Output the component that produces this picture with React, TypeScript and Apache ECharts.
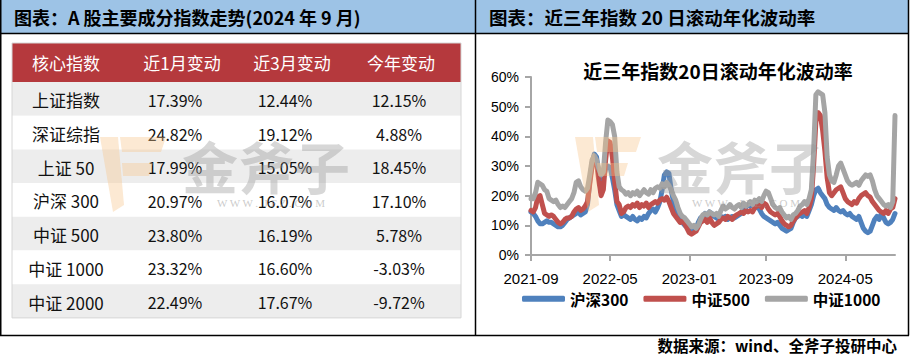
import React, { useEffect, useRef } from 'react';
import * as echarts from 'echarts';

// ---------- Left panel table ----------
const tableHeaders = ['核心指数', '近1月变动', '近3月变动', '今年变动'];
const indexNames = ['上证指数', '深证综指', '上证 50', '沪深 300', '中证 500', '中证 1000', '中证 2000'];
const change1M = ['17.39%', '24.82%', '17.99%', '20.97%', '23.80%', '23.32%', '22.49%'];
const change3M = ['12.44%', '19.12%', '15.05%', '16.07%', '16.19%', '16.60%', '17.67%'];
const changeYTD = ['12.15%', '4.88%', '18.45%', '17.10%', '5.78%', '-3.03%', '-9.72%'];

// ---------- Right panel chart ----------
const seriesNames = ['沪深300', '中证500', '中证1000'];
const xTickLabels = ['2021-09', '2022-05', '2023-01', '2023-09', '2024-05'];
const firstWeekUTC = Date.UTC(2021, 8, 3); // weekly observations from 2021-09-03

const hs300 = [
  14.5, 14, 13, 11.5, 10.5, 10.5, 11, 11.5, 11, 11,
  10.5, 10, 9.5, 9.5, 10, 11, 12, 12.5, 13, 13.5,
  14, 14.5, 13.5, 14, 14.5, 17, 25, 31, 34, 33,
  27, 24, 26, 29, 30, 29.5, 26, 22, 17, 15,
  13, 13.5, 13, 12.5, 12, 13, 12, 11.5, 12.5, 12,
  13, 12.5, 14, 15, 15.5, 14.5, 16, 18, 22, 27,
  28, 27.5, 22, 18, 16, 13.5, 12, 11, 10, 9.5,
  8.5, 8, 8.5, 9, 11, 12.5, 13, 14, 13, 14.5,
  14, 13, 12.5, 12, 13, 12.5, 13, 12, 12.5, 13,
  12.5, 13, 13.5, 14, 15.5, 16, 17, 16.5, 17.5, 17,
  16, 15.5, 14, 13, 12.5, 12, 11.5, 11, 10.5, 11,
  10, 9, 8.5, 8, 8.5, 9, 11, 12.5, 13, 13.5,
  13, 14, 13, 15, 17, 20, 22, 22.5, 21, 20,
  19, 17, 16, 15.5, 15, 16, 15, 14.5, 15, 14,
  13.5, 14, 13, 12.5, 12, 13, 11, 9, 8, 7.5,
  8, 10, 12, 13, 12, 14, 12.5, 11, 10.5, 11,
  12, 14,
];

const zz500 = [
  15, 14.5, 16, 19.5, 20, 17, 14, 13.5, 13, 13.5,
  13, 12, 11, 10.5, 11, 12, 12.5, 12.5, 13, 14.5,
  15.5, 16, 15, 15.5, 16.5, 18, 24, 30, 31.5, 31,
  25, 20, 22, 32, 38.5, 38, 33, 25, 18, 17,
  14, 14.5, 16, 16.5, 16, 17, 16.5, 17.5, 16, 17,
  16.5, 17.5, 16, 17, 17.5, 18, 17.5, 18.5, 19, 18.5,
  19.5, 18, 16, 14, 13, 12, 11, 11.5, 10.5, 9,
  7.5, 7, 7.5, 8, 9.5, 11, 11.5, 12, 11, 12.5,
  11, 10, 10.5, 11, 12, 12.5, 12, 13, 12.5, 12,
  13, 13.5, 14, 14.5, 14, 15, 14.5, 15, 14.5, 16,
  16.5, 17, 16, 17.5, 17, 15.5, 14.5, 14, 13.5, 14,
  13, 11.5, 10.5, 10, 9.5, 10, 11.5, 12.5, 13.5, 14,
  14.5, 15, 14, 16, 19, 30, 45, 48, 47, 42,
  35, 26, 21, 20, 21, 22, 22.5, 23, 21, 19,
  18, 17.5, 17, 18, 17.5, 19, 20, 20.5, 21, 20,
  19.5, 18, 17, 16, 15, 14.5, 14, 15, 14, 15.5,
  16, 19,
];

const zz1000 = [
  19, 19, 21, 24.5, 24, 23.5, 22, 21.5, 19, 18.5,
  18, 18.5, 17, 16, 16.5, 16, 17, 18, 19, 21,
  24.5, 25, 23, 22, 21.5, 22.5, 27, 32, 33.5, 32,
  29, 27, 28, 38, 45.5, 45, 44, 40, 28, 23,
  22, 21.5, 20.5, 21, 20, 21, 20.5, 21.5, 20, 21,
  22, 21, 20.5, 22, 21, 22.5, 23, 22.5, 24, 23,
  24.5, 23.5, 22, 20, 18.5, 16, 14, 13, 12.5, 11.5,
  10.5, 9.5, 10, 9, 10, 12, 13.5, 14, 13.5, 14.5,
  14, 13.5, 14, 13, 15, 16.5, 15.5, 16, 17, 16,
  15.5, 16.5, 17, 16, 17.5, 16.5, 17, 18, 17, 18.5,
  18, 19, 18, 20, 21.5, 21, 19, 17, 16, 15.5,
  16, 14.5, 13.5, 12.5, 13, 12, 13.5, 14, 15, 16.5,
  17, 18, 17, 19, 22, 35, 54, 55, 54.5, 54,
  48, 33, 27, 25, 24.5, 27, 30, 31, 29, 27,
  25, 24, 23.5, 24, 24.5, 23.5, 25, 26, 27, 26.5,
  27, 25, 22, 20, 19, 18, 17, 16.5, 17, 16,
  18, 47,
];

const seriesColors = ['#4F81BD', '#C0504D', '#A5A5A5'];

const categories = hs300.map((_, i) =>
  new Date(firstWeekUTC + i * 7 * 86400000).toISOString().slice(0, 10)
);
const tickIdx = new Set<number>();
xTickLabels.forEach((lbl) => {
  const idx = categories.findIndex((c) => c.startsWith(lbl));
  if (idx >= 0) tickIdx.add(idx);
});

const CJK = '"Noto Sans CJK SC", "Noto Sans", sans-serif';
const LATIN = '"Liberation Sans", Arial, sans-serif';

function txt(x: number, y: number, text: string, o: any = {}) {
  return {
    type: 'text',
    x,
    y,
    z: o.z ?? 20,
    silent: true,
    style: {
      text,
      fill: o.fill ?? '#000',
      fontSize: o.fontSize ?? 16,
      fontFamily: o.fontFamily ?? CJK,
      fontWeight: o.fontWeight ?? 'normal',
      align: o.align ?? 'center',
      verticalAlign: 'middle',
      opacity: o.opacity ?? 1,
    },
  };
}

function line(x1: number, y1: number, x2: number, y2: number, stroke = '#000', lineWidth = 1.5, z = 50) {
  return { type: 'line', z, silent: true, shape: { x1, y1, x2, y2 }, style: { stroke, lineWidth } };
}

function watermark(ox: number) {
  const logo = 'rgba(246, 196, 140, 0.38)';
  return [
    { type: 'polygon', z: 60, silent: true, shape: { points: [[ox + 100, 137], [ox + 118, 137], [ox + 124, 205], [ox + 113, 212]] }, style: { fill: logo } },
    { type: 'polygon', z: 60, silent: true, shape: { points: [[ox + 120, 137], [ox + 166, 137], [ox + 161, 152], [ox + 122, 152]] }, style: { fill: logo } },
    { type: 'polygon', z: 60, silent: true, shape: { points: [[ox + 122, 163], [ox + 153, 163], [ox + 149, 176], [ox + 123, 176]] }, style: { fill: logo } },
    txt(ox + 266, 164, '金斧子', { fontSize: 56, fontWeight: 'bold', fill: 'rgba(150,150,150,0.38)', z: 61 }),
    txt(ox + 271, 203, 'W W W .  J F Z . C O M', { fontSize: 11, fontFamily: '"Liberation Serif", serif', fill: 'rgba(150,150,150,0.5)', z: 61 }),
  ];
}

function buildGraphics() {
  const g: any[] = [];
  // header band
  g.push({ type: 'rect', z: 1, silent: true, shape: { x: 0, y: 0, width: 909, height: 33 }, style: { fill: '#9DC3E6' } });
  g.push(txt(14, 17, '图表：A 股主要成分指数走势(2024 年 9 月)', { align: 'left', fontWeight: 'bold', fontSize: 18 }));
  g.push(txt(489, 17, '图表：近三年指数 20 日滚动年化波动率', { align: 'left', fontWeight: 'bold', fontSize: 18.5 }));
  // frames
  g.push(line(0, 33.5, 909, 33.5));
  g.push(line(0, 335.5, 909, 335.5));
  g.push(line(0.75, 0, 0.75, 335.5));
  g.push(line(475.5, 0, 475.5, 335.5));
  g.push(line(908.5, 0, 908.5, 335.5));

  // table
  const tx = 12, tw = 449, hy = 43, hh = 39, rh = 33.7;
  const rows = indexNames.length;
  g.push({ type: 'rect', z: 2, silent: true, shape: { x: tx, y: hy, width: tw, height: hh }, style: { fill: '#B5393D' } });
  for (let r = 0; r < rows; r++) {
    g.push({ type: 'rect', z: 2, silent: true, shape: { x: tx, y: hy + hh + r * rh, width: tw, height: rh }, style: { fill: r % 2 === 0 ? '#EDEDED' : '#FFFFFF' } });
  }
  g.push({ type: 'rect', z: 3, silent: true, shape: { x: tx, y: hy, width: tw, height: hh + rows * rh }, style: { fill: 'none', stroke: '#D6D6D6', lineWidth: 1 } });
  const headCx = [66, 182, 292, 401];
  tableHeaders.forEach((h, c) => g.push(txt(headCx[c], hy + hh / 2, h, { fill: '#FFFFFF', fontSize: 17 })));
  const valCx = [66, 175, 285, 399];
  const cols = [indexNames, change1M, change3M, changeYTD];
  for (let r = 0; r < rows; r++) {
    const cy = hy + hh + r * rh + rh / 2 + 1;
    cols.forEach((col, c) => g.push(txt(valCx[c], cy, col[r], { fontSize: c === 0 ? 17 : 16, fill: '#111' })));
  }

  // chart title + footer
  g.push(txt(718, 70, '近三年指数20日滚动年化波动率', { fontWeight: 'bold', fontSize: 19 }));
  g.push(txt(897, 345, '数据来源：wind、全斧子投研中心', { align: 'right', fontWeight: 'bold', fontSize: 15.5 }));

  // watermarks
  g.push(...watermark(0));
  g.push(...watermark(475));
  return g;
}

export default function App() {
  const ref = useRef<HTMLDivElement>(null);
  useEffect(() => {
    if (!ref.current) return;
    const chart = echarts.init(ref.current, null, { renderer: 'svg', width: 910, height: 357 });
    const data = [hs300, zz500, zz1000];
    const option: any = {
      animation: false,
      backgroundColor: '#FFFFFF',
      grid: { left: 531, right: 15, top: 77, bottom: 102, containLabel: false },
      legend: {
        left: 517,
        top: 286,
        icon: 'roundRect',
        itemWidth: 43,
        itemHeight: 6,
        itemGap: 15,
        data: seriesNames,
        textStyle: { fontSize: 15.5, fontWeight: 'bold', color: '#000', fontFamily: CJK },
      },
      xAxis: {
        type: 'category',
        data: categories,
        boundaryGap: false,
        axisLine: { lineStyle: { color: '#A6A6A6', width: 2 } },
        axisTick: { show: true, interval: (i: number) => tickIdx.has(i), length: 6, lineStyle: { color: '#A6A6A6', width: 2 } },
        axisLabel: {
          interval: (i: number) => tickIdx.has(i),
          formatter: (v: string) => v.slice(0, 7),
          color: '#000',
          fontSize: 15,
          fontFamily: LATIN,
          margin: 16,
        },
        splitLine: { show: false },
      },
      yAxis: {
        type: 'value',
        min: 0,
        max: 60,
        interval: 10,
        axisLine: { show: true, lineStyle: { color: '#A6A6A6', width: 2 } },
        axisTick: { show: true, length: 6, lineStyle: { color: '#A6A6A6', width: 2 } },
        axisLabel: { formatter: '{value}%', color: '#000', fontSize: 14, fontFamily: LATIN, margin: 12 },
        splitLine: { show: false },
      },
      series: seriesNames.map((name, k) => ({
        name,
        type: 'line',
        data: data[k],
        symbol: 'none',
        z: 2 + k,
        color: seriesColors[k],
        lineStyle: { width: 5, color: seriesColors[k], cap: 'round', join: 'round' },
      })),
      graphic: buildGraphics(),
    };
    chart.setOption(option);
    return () => chart.dispose();
  }, []);
  return (
    <div
      ref={ref}
      style={{ position: 'absolute', left: 0, top: 0, width: 910, height: 357, background: '#fff' }}
    />
  );
}
